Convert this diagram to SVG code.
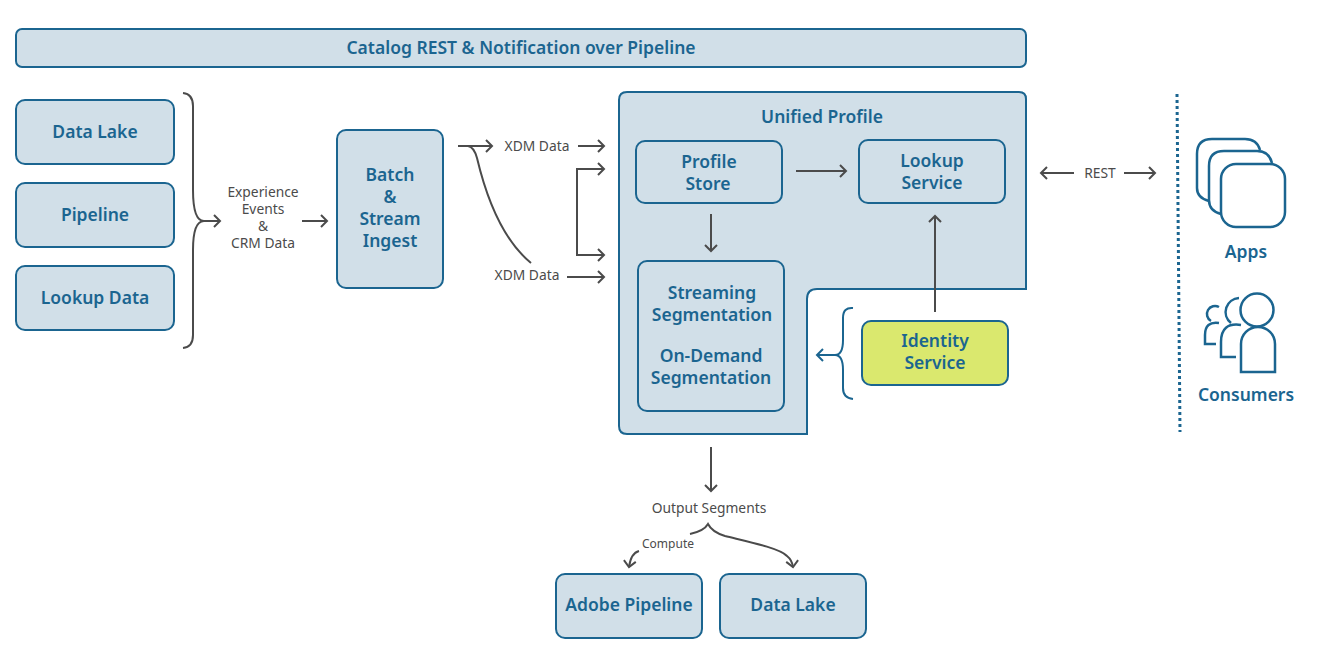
<svg xmlns="http://www.w3.org/2000/svg" width="1325" height="664" viewBox="0 0 1325 664">
<style>
.box{fill:#d1dfe8;stroke:#1b6590;stroke-width:2}
.t{font-family:"Noto Sans","Open Sans",sans-serif;font-weight:600;font-size:17.5px;fill:#1b6590;text-anchor:middle}
.l{font-family:"Noto Sans","Open Sans",sans-serif;font-size:13.8px;fill:#4b4b4b;text-anchor:middle}
.c{fill:none;stroke:#4b4b4b;stroke-width:2}
.b{fill:none;stroke:#1b6590;stroke-width:2}
</style>
<defs>
<marker id="a" markerUnits="userSpaceOnUse" markerWidth="16" markerHeight="16" refX="12" refY="8" orient="auto-start-reverse"><path d="M6 2L12 8L6 14" fill="none" stroke="#4b4b4b" stroke-width="2"/></marker>
<marker id="ab" markerUnits="userSpaceOnUse" markerWidth="16" markerHeight="16" refX="12" refY="8" orient="auto"><path d="M6 2L12 8L6 14" fill="none" stroke="#1b6590" stroke-width="2"/></marker>
</defs>
<g id="catalog"><rect class="box" x="16" y="29" width="1010" height="38" rx="6"/><text class="t" x="521" y="54">Catalog REST &amp; Notification over Pipeline</text></g>
<g id="data-lake"><rect class="box" x="16" y="100" width="158" height="64" rx="9"/><text class="t" x="95" y="138">Data Lake</text></g>
<g id="pipeline"><rect class="box" x="16" y="183" width="158" height="64" rx="9"/><text class="t" x="95" y="221">Pipeline</text></g>
<g id="lookup-data"><rect class="box" x="16" y="266" width="158" height="64" rx="9"/><text class="t" x="95" y="304">Lookup Data</text></g>
<g id="ingest"><rect class="box" x="337" y="130" width="106" height="158" rx="9"/><text class="t" x="390" y="181">Batch</text><text class="t" x="390" y="203">&amp;</text><text class="t" x="390" y="225">Stream</text><text class="t" x="390" y="247">Ingest</text></g>
<g id="unified-profile"><path class="box" d="M627 92H1019Q1026 92 1026 99V289H817Q807 289 807 299V434H627Q619 434 619 426V100Q619 92 627 92Z"/><text class="t" x="822" y="123">Unified Profile</text></g>
<g id="profile-store"><rect class="box" x="636" y="141" width="146" height="62" rx="9"/><text class="t" x="709" y="168">Profile</text><text class="t" x="708" y="190">Store</text></g>
<g id="lookup-service"><rect class="box" x="859" y="140" width="146" height="63" rx="9"/><text class="t" x="932" y="167">Lookup</text><text class="t" x="932" y="189">Service</text></g>
<g id="segmentation"><rect class="box" x="638" y="261" width="146" height="150" rx="9"/><text class="t" x="712" y="299">Streaming</text><text class="t" x="712" y="321">Segmentation</text><text class="t" x="711" y="362">On-Demand</text><text class="t" x="711" y="384">Segmentation</text></g>
<g id="identity-service"><rect class="box" style="fill:#dae86e" x="862" y="321" width="146" height="64" rx="9"/><text class="t" x="935" y="347">Identity</text><text class="t" x="935" y="369">Service</text></g>
<g id="adobe-pipeline"><rect class="box" x="556" y="574" width="146" height="64" rx="9"/><text class="t" x="629" y="611">Adobe Pipeline</text></g>
<g id="data-lake-out"><rect class="box" x="720" y="574" width="146" height="64" rx="9"/><text class="t" x="793" y="611">Data Lake</text></g>
<g id="apps"><g class="b" style="stroke-width:2.5"><path d="M1260 150Q1257 139 1245 139H1212Q1197 139 1197 154V188Q1197 198 1209 201"/><path d="M1272 163Q1269 151 1257 151H1224Q1209 151 1209 166V200Q1209 211 1221 214"/><rect x="1221" y="164" width="64" height="63" rx="15"/></g><text class="t" x="1246" y="258">Apps</text></g>
<g id="consumers"><g class="b" style="stroke-width:2.5"><circle cx="1257" cy="310" r="16.5"/><path d="M1241 372V344A17 17 0 0 1 1275 344V372Z"/><path d="M1239 298A14 14 0 0 0 1231 323"/><path d="M1241 325Q1221 322 1221 342V357H1236"/><path d="M1219 307A8 8 0 0 0 1211 321"/><path d="M1219 323Q1205 321 1205 335V344H1216"/></g><text class="t" x="1246" y="401">Consumers</text></g>
<g id="connectors">
<path class="c" d="M183 93Q193 94 193 106V190Q193 221 204 221H220" marker-end="url(#a)"/>
<path class="c" d="M183 348Q193 347 193 335V250Q193 221 204 221"/>
<path class="c" d="M302 221H327" marker-end="url(#a)"/>
<path class="c" d="M458 146H492" marker-end="url(#a)"/>
<path class="c" d="M458 146H468Q474 147 477 158C487 200 503 240 531 263"/>
<path class="c" d="M578 146H604" marker-end="url(#a)"/>
<path class="c" d="M604 169H577V255H604" marker-start="url(#a)" marker-end="url(#a)"/>
<path class="c" d="M567 277H604" marker-end="url(#a)"/>
<path class="c" d="M796 171H846" marker-end="url(#a)"/>
<path class="c" d="M711 214V251" marker-end="url(#a)"/>
<path class="c" d="M935 312V216" marker-end="url(#a)"/>
<path class="b" d="M853 308Q843 307 843 318V340Q843 355 835 355H817" marker-end="url(#ab)"/>
<path class="b" d="M853 399Q843 398 843 388V370Q843 355 835 355"/>
<path class="c" d="M1074 173H1041" marker-end="url(#a)"/>
<path class="c" d="M1124 173H1155" marker-end="url(#a)"/>
<path d="M1177 94L1180 432" fill="none" stroke="#1b6590" stroke-width="3" stroke-dasharray="3 3"/>
<path class="c" d="M711 447V491" marker-end="url(#a)"/>
<path class="c" d="M690 534Q704 531 708 524Q712 532 725 536C745 541 780 548 787 556Q792 560 793 567" marker-end="url(#a)"/>
<path class="c" d="M639 551Q631 553 629 567" marker-end="url(#a)"/>
</g>
<g id="labels">
<text class="l" x="263" y="197">Experience</text><text class="l" x="263" y="214">Events</text><text class="l" x="263" y="231">&amp;</text><text class="l" x="263" y="248">CRM Data</text>
<text class="l" x="537" y="151">XDM Data</text><text class="l" x="527" y="280">XDM Data</text><text class="l" x="1100" y="178">REST</text>
<text class="l" x="709" y="513">Output Segments</text><text class="l" style="font-size:12px" x="668" y="548">Compute</text>
</g>
</svg>
